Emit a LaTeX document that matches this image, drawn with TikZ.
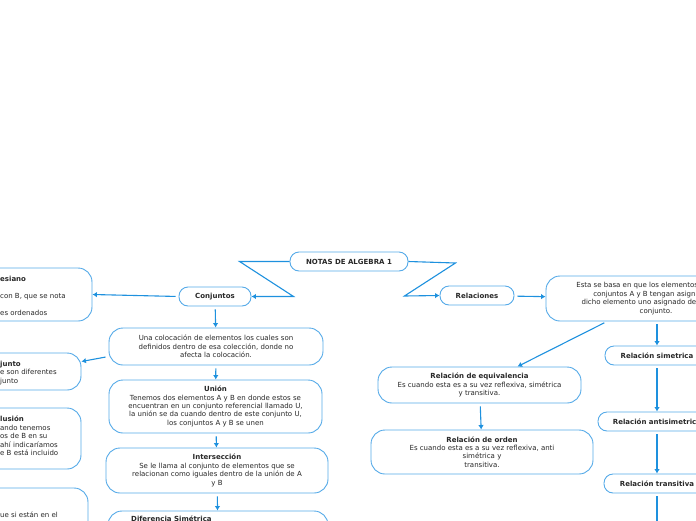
\documentclass[tikz,border=0pt]{standalone}
\usepackage{fontspec}
\setmainfont{DejaVu Sans}
\usepackage{xcolor}
\usetikzlibrary{arrows.meta,positioning}
\definecolor{azulflecha}{RGB}{30,145,222}
\definecolor{azulborde}{RGB}{85,170,232}
\definecolor{gristexto}{RGB}{40,40,40}

\begin{document}
\begin{tikzpicture}[x=1pt,y=-1pt,
  caja/.style={draw=azulborde,line width=0.9pt,rounded corners=14pt,fill=white,
               align=center,text=gristexto,font=\fontsize{7}{8.4}\selectfont,inner sep=2pt},
  pildora/.style={caja,rounded corners=9pt,minimum height=19pt,
                  font=\fontsize{7}{8.4}\selectfont\bfseries},
  frag/.style={anchor=north west,inner sep=0pt,align=left,text=gristexto,
               font=\fontsize{7}{8.4}\selectfont},
  ar/.style={-{Latex[length=4.5pt,width=5.5pt]},line width=1.1pt,draw=azulflecha,shorten <=3pt}
]
\useasboundingbox (0,0) rectangle (696,520);

% centro
\node[pildora,minimum width=118pt] (raiz) at (349,261.5) {NOTAS DE ALGEBRA 1};
\node[pildora,minimum width=72pt]  (conj) at (215,296.5) {Conjuntos};
\node[pildora,minimum width=74pt]  (rel)  at (477,295.5) {Relaciones};

% conjuntos
\node[caja,minimum width=214pt,minimum height=37pt] (coloc) at (216,346.5)
  {Una colocación de elementos los cuales son\\definidos dentro de esa colección, donde no\\afecta la colocación.};
\node[caja,minimum width=213pt,minimum height=53pt] (union) at (215.5,406.5)
  {\textbf{Unión}\\Tenemos dos elementos A y B en donde estos se\\encuentran en un conjunto referencial llamado U,\\la unión se da cuando dentro de este conjunto U,\\los conjuntos A y B se unen};
\node[caja,minimum width=222pt,minimum height=45pt] (inter) at (217,470.5)
  {\textbf{Intersección}\\Se le llama al conjunto de elementos que se\\relacionan como iguales dentro de la unión de A\\y B};
\node[caja,minimum width=220pt,minimum height=68pt] (difsim) at (218,545) {};
\node[frag] (tdifsim) at (131,516) {\textbf{Diferencia Simétrica}};

% cajas cortadas a la izquierda
\node[caja,minimum width=130pt,minimum height=53pt] (prod) at (27,294.5) {};
\node[frag] (tprod) at (0,275.5) {\textbf{esiano}\\[9pt]con B, que se nota\\[9pt]es ordenados};
\node[caja,minimum width=120pt,minimum height=37pt] (disj) at (21,371.5) {};
\node[frag] (tdisj) at (0,361) {\textbf{junto}\\e son diferentes\\junto};
\node[caja,minimum width=120pt,minimum height=61pt] (incl) at (21,438.5) {};
\node[frag] (tincl) at (0,416) {\textbf{lusión}\\ando tenemos\\os de B en su\\ahí indicaríamos\\e B está incluido};
\node[caja,minimum width=130pt,minimum height=60pt] (ult) at (23,518) {};
\node[frag] (tult) at (0,512) {ue si están en el};

% relaciones
\node[caja,minimum width=220pt,minimum height=45pt] (basa) at (656,298.5)
  {Esta se basa en que los elementos de los dos\\conjuntos A y B tengan asignados a\\dicho elemento uno asignado del segundo\\conjunto.};
\node[caja,minimum width=203pt,minimum height=36pt] (equiv) at (479.5,385)
  {\textbf{Relación de equivalencia}\\Es cuando esta es a su vez reflexiva, simétrica\\y transitiva.};
\node[caja,minimum width=222pt,minimum height=44pt] (orden) at (482,452)
  {\textbf{Relación de orden}\\Es cuando esta es a su vez reflexiva, anti\\simétrica y\\transitiva.};
\node[pildora,minimum width=104pt] (sime)  at (657,355.5) {Relación simetrica};
\node[pildora,minimum width=118pt] (anti)  at (657,421.5) {Relación antisimetrica};
\node[pildora,minimum width=106pt] (trans) at (657,483.5) {Relación transitiva};
\coordinate (abajo) at (657,545);

% conectores
\draw[ar,shorten <=0pt] (raiz.west) -- ++(-50,0) -- ++(54,35) -- (conj.east);
\draw[ar,shorten <=0pt] (raiz.east) -- ++(47,1.5) -- ++(-51,33) -- (rel.west);
\draw[ar] (conj.west) -- (prod.east);
\draw[ar] (conj) -- (coloc);
\draw[ar] ([yshift=-10pt]coloc.west) -- ([yshift=10pt]disj.east);
\draw[ar] (coloc) -- (union);
\draw[ar] (union) -- (inter);
\draw[ar] (inter) -- (difsim);
\draw[ar] (rel) -- (basa);
\draw[ar] ([xshift=-49pt]basa.south) -- ([xshift=38pt]equiv.north);
\draw[ar] (equiv) -- (orden);
\draw[ar] (basa.south -| sime) -- (sime);
\draw[ar] (sime) -- (anti);
\draw[ar] (anti) -- (trans);
\draw[ar] (trans) -- (abajo);
\end{tikzpicture}
\end{document}
